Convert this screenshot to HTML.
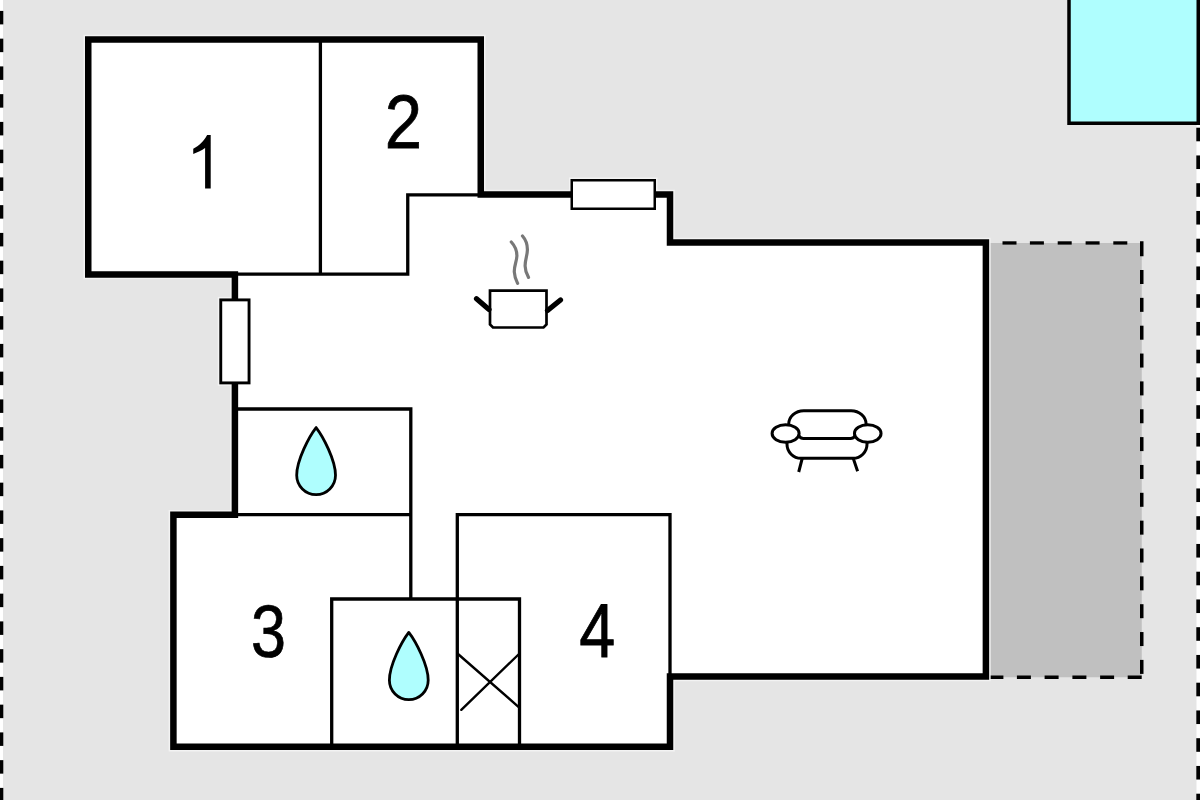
<!DOCTYPE html>
<html><head><meta charset="utf-8"><style>
html,body{margin:0;padding:0;background:#e5e5e5;width:1200px;height:800px;overflow:hidden;font-family:"Liberation Sans",sans-serif;}
svg{position:absolute;left:0;top:0;display:block}
</style></head><body>
<svg width="1200" height="800" viewBox="0 0 1200 800">
<rect x="0" y="0" width="3" height="800" fill="#fff"/>
<rect x="1196.5" y="125" width="3.5" height="675" fill="#fff"/>
<rect x="0.00" y="10.90" width="3.30" height="13.50"/>
<rect x="0.00" y="38.65" width="3.30" height="13.50"/>
<rect x="0.00" y="66.40" width="3.30" height="13.50"/>
<rect x="0.00" y="94.15" width="3.30" height="13.50"/>
<rect x="0.00" y="121.90" width="3.30" height="13.50"/>
<rect x="0.00" y="149.65" width="3.30" height="13.50"/>
<rect x="0.00" y="177.40" width="3.30" height="13.50"/>
<rect x="0.00" y="205.15" width="3.30" height="13.50"/>
<rect x="0.00" y="232.90" width="3.30" height="13.50"/>
<rect x="0.00" y="260.65" width="3.30" height="13.50"/>
<rect x="0.00" y="288.40" width="3.30" height="13.50"/>
<rect x="0.00" y="316.15" width="3.30" height="13.50"/>
<rect x="0.00" y="343.90" width="3.30" height="13.50"/>
<rect x="0.00" y="371.65" width="3.30" height="13.50"/>
<rect x="0.00" y="399.40" width="3.30" height="13.50"/>
<rect x="0.00" y="427.15" width="3.30" height="13.50"/>
<rect x="0.00" y="454.90" width="3.30" height="13.50"/>
<rect x="0.00" y="482.65" width="3.30" height="13.50"/>
<rect x="0.00" y="510.40" width="3.30" height="13.50"/>
<rect x="0.00" y="538.15" width="3.30" height="13.50"/>
<rect x="0.00" y="565.90" width="3.30" height="13.50"/>
<rect x="0.00" y="593.65" width="3.30" height="13.50"/>
<rect x="0.00" y="621.40" width="3.30" height="13.50"/>
<rect x="0.00" y="649.15" width="3.30" height="13.50"/>
<rect x="0.00" y="676.90" width="3.30" height="13.50"/>
<rect x="0.00" y="704.65" width="3.30" height="13.50"/>
<rect x="0.00" y="732.40" width="3.30" height="13.50"/>
<rect x="0.00" y="760.15" width="3.30" height="13.50"/>
<rect x="0.00" y="787.90" width="3.30" height="12.10"/>
<rect x="1196.30" y="127.70" width="3.70" height="13.60"/>
<rect x="1196.30" y="155.45" width="3.70" height="13.60"/>
<rect x="1196.30" y="183.20" width="3.70" height="13.60"/>
<rect x="1196.30" y="210.95" width="3.70" height="13.60"/>
<rect x="1196.30" y="238.70" width="3.70" height="13.60"/>
<rect x="1196.30" y="266.45" width="3.70" height="13.60"/>
<rect x="1196.30" y="294.20" width="3.70" height="13.60"/>
<rect x="1196.30" y="321.95" width="3.70" height="13.60"/>
<rect x="1196.30" y="349.70" width="3.70" height="13.60"/>
<rect x="1196.30" y="377.45" width="3.70" height="13.60"/>
<rect x="1196.30" y="405.20" width="3.70" height="13.60"/>
<rect x="1196.30" y="432.95" width="3.70" height="13.60"/>
<rect x="1196.30" y="460.70" width="3.70" height="13.60"/>
<rect x="1196.30" y="488.45" width="3.70" height="13.60"/>
<rect x="1196.30" y="516.20" width="3.70" height="13.60"/>
<rect x="1196.30" y="543.95" width="3.70" height="13.60"/>
<rect x="1196.30" y="571.70" width="3.70" height="13.60"/>
<rect x="1196.30" y="599.45" width="3.70" height="13.60"/>
<rect x="1196.30" y="627.20" width="3.70" height="13.60"/>
<rect x="1196.30" y="654.95" width="3.70" height="13.60"/>
<rect x="1196.30" y="682.70" width="3.70" height="13.60"/>
<rect x="1196.30" y="710.45" width="3.70" height="13.60"/>
<rect x="1196.30" y="738.20" width="3.70" height="13.60"/>
<rect x="1196.30" y="765.95" width="3.70" height="13.60"/>
<rect x="1196.30" y="793.70" width="3.70" height="6.30"/>
<rect x="1069" y="-5" width="129.25" height="128.25" fill="#affefe" stroke="#000" stroke-width="3.5"/>
<rect x="986" y="243" width="155.75" height="434.25" fill="#c0c0c0"/>
<rect x="1002.5" y="241.3" width="14" height="3.3"/>
<rect x="1029.9" y="241.3" width="14" height="3.3"/>
<rect x="1057.7" y="241.3" width="14" height="3.3"/>
<rect x="1085.6" y="241.3" width="14" height="3.3"/>
<rect x="1113.3" y="241.3" width="14" height="3.3"/>
<rect x="989.4" y="675.5" width="14" height="3.5"/>
<rect x="1016.9" y="675.5" width="14" height="3.5"/>
<rect x="1044.6" y="675.5" width="14" height="3.5"/>
<rect x="1072.4" y="675.5" width="14" height="3.5"/>
<rect x="1100.1" y="675.5" width="14" height="3.5"/>
<rect x="1127.7" y="675.5" width="14" height="3.5"/>
<rect x="1140" y="241.25" width="3.5" height="15.00"/>
<rect x="1140" y="270.00" width="3.5" height="14.00"/>
<rect x="1140" y="297.85" width="3.5" height="14.00"/>
<rect x="1140" y="325.70" width="3.5" height="14.00"/>
<rect x="1140" y="353.55" width="3.5" height="14.00"/>
<rect x="1140" y="381.40" width="3.5" height="14.00"/>
<rect x="1140" y="409.25" width="3.5" height="14.00"/>
<rect x="1140" y="437.10" width="3.5" height="14.00"/>
<rect x="1140" y="464.95" width="3.5" height="14.00"/>
<rect x="1140" y="492.80" width="3.5" height="14.00"/>
<rect x="1140" y="520.65" width="3.5" height="14.00"/>
<rect x="1140" y="548.50" width="3.5" height="14.00"/>
<rect x="1140" y="576.35" width="3.5" height="14.00"/>
<rect x="1140" y="604.20" width="3.5" height="14.00"/>
<rect x="1140" y="632.05" width="3.5" height="14.00"/>
<rect x="1140" y="659.90" width="3.5" height="14.00"/>
<path d="M88.25 39.5 H480.75 V194.6 H670 V242.5 H985.9 V676.5 H670 V746.8 H173.4 V514.8 H234.9 V274.5 H88.25 Z" fill="none" stroke="#f3f3f3" stroke-width="9.5" stroke-linejoin="miter"/>
<rect x="571.75" y="180.25" width="83" height="28.5" fill="none" stroke="#f3f3f3" stroke-width="5.5"/>
<rect x="220.75" y="299.9" width="28.3" height="83" fill="none" stroke="#f3f3f3" stroke-width="5.9"/>
<path d="M88.25 39.5 H480.75 V194.6 H670 V242.5 H985.9 V676.5 H670 V746.8 H173.4 V514.8 H234.9 V274.5 H88.25 Z" fill="#fff" stroke="#000" stroke-width="6.5" stroke-linejoin="miter"/>
<path d="M320.4 39.5 V274.2" fill="none" stroke="#000" stroke-width="3.3"/>
<path d="M234.9 274.2 H407.75 V194.9 H480.75" fill="none" stroke="#000" stroke-width="3.3"/>
<path d="M234.9 409 H410.8 V599" fill="none" stroke="#000" stroke-width="3.3"/>
<path d="M234.9 514.6 H410.8" fill="none" stroke="#000" stroke-width="3.3"/>
<path d="M331.7 746.8 V599 H519.5 V746.8" fill="none" stroke="#000" stroke-width="3.3"/>
<path d="M457.3 746.8 V514.6 H670 V676.5" fill="none" stroke="#000" stroke-width="3.3"/>
<rect x="571.75" y="180.25" width="83" height="28.5" fill="#fff" stroke="#000" stroke-width="2.5"/>
<rect x="220.75" y="299.9" width="28.3" height="83" fill="#fff" stroke="#000" stroke-width="2.9"/>
<path d="M458 654 L519 707.3 M461.3 709.8 L519 654" stroke="#000" stroke-width="2.4" stroke-linecap="round" fill="none"/>
<path d="M316.10 427.60 C309.10 436.60 296.70 460.20 296.70 475.20 A19.4 19.4 0 0 0 335.50 475.20 C335.50 460.20 323.10 436.60 316.10 427.60 Z" fill="#affefe" stroke="#000" stroke-width="2.8" stroke-linejoin="round"/>
<path d="M408.80 632.40 C401.80 641.40 389.40 665.20 389.40 680.20 A19.4 19.4 0 0 0 428.20 680.20 C428.20 665.20 415.80 641.40 408.80 632.40 Z" fill="#affefe" stroke="#000" stroke-width="2.8" stroke-linejoin="round"/>
<path d="M490 290.6 H546.5 V324.5 L543.5 327.5 H493 L490 324.5 Z" fill="#fff" stroke="#000" stroke-width="2.7" stroke-linejoin="miter"/>
<path d="M476.5 298.8 L489 309.5 M560.5 300 L547.5 310.5" stroke="#000" stroke-width="5.2" stroke-linecap="round"/>
<path d="M511.3 242 C515 246 517 250 516.9 256 C516.6 262 514 266 514.3 272 C514.5 277 516 280 517.6 283.3" fill="none" stroke="#787878" stroke-width="3.2" stroke-linecap="round"/>
<path d="M522.5 236 C526 240 527.5 244 527.4 250 C527.2 256 525 260 525.1 266 C525.2 271 526.5 274 528.5 277.3" fill="none" stroke="#787878" stroke-width="3.2" stroke-linecap="round"/>

<g fill="none" stroke="#000" stroke-width="3" stroke-linecap="round">
<path d="M788.7 425 V424.2 A15 13.5 0 0 1 803.7 410.7 H851.1 A15 13.5 0 0 1 866.1 424.2 V425"/>
<path d="M787 443 V444.3 A14 14 0 0 0 801 458.3 H853 A14 14 0 0 0 867 444.3 V443"/>
<path d="M799.3 436.3 Q800.5 438.4 803.5 438.4 H850.5 Q853.5 438.4 854.7 436.3"/>
</g>
<path d="M802.2 458.5 L798.7 472 M853.3 458.5 L857.6 471.3" fill="none" stroke="#000" stroke-width="3" stroke-linecap="butt"/>
<ellipse cx="785.6" cy="433.5" rx="13.5" ry="8.7" fill="#fff" stroke="#000" stroke-width="3"/>
<ellipse cx="867.75" cy="433.5" rx="13.3" ry="8.7" fill="#fff" stroke="#000" stroke-width="3"/>

<text transform="translate(384.78,147.62) scale(0.6710,0.7535)" font-family="Liberation Sans, sans-serif" font-size="100" fill="#000" stroke="#000" stroke-width="1.0">2</text>
<text transform="translate(251.10,656.88) scale(0.6292,0.7472)" font-family="Liberation Sans, sans-serif" font-size="100" fill="#000" stroke="#000" stroke-width="1.0">3</text>
<text transform="translate(579.21,656.82) scale(0.6471,0.7529)" font-family="Liberation Sans, sans-serif" font-size="100" fill="#000" stroke="#000" stroke-width="1.0">4</text>
<path d="M207.1 135 L210.7 135 L210.7 188.5 L205.1 188.5 L205.1 148 C201 151 197 152.5 193.25 154 L193.25 148.75 C199 146 204 141 207.1 135 Z" fill="#000"/>
</svg>
</body></html>
